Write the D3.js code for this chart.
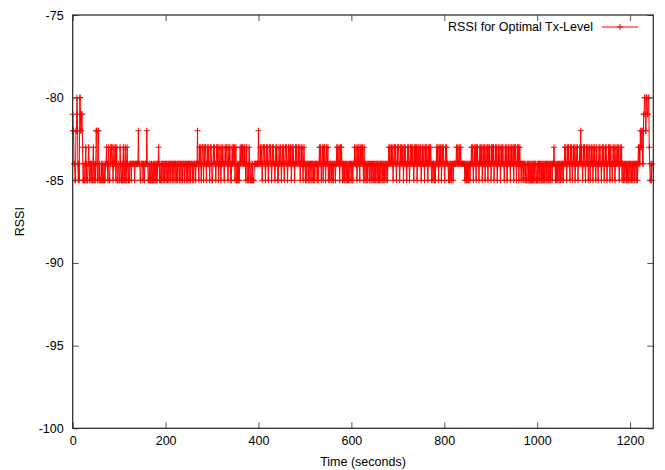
<!DOCTYPE html>
<html>
<head>
<meta charset="utf-8">
<script src="https://cdn.jsdelivr.net/npm/d3@7"></script>
<style>
  html, body { margin: 0; padding: 0; background: #fff; }
  svg { display: block; font-family: "Liberation Sans", Arial, Helvetica, sans-serif; }
</style>
</head>
<body>
<svg id="chart" width="665" height="470"></svg>
<script>
// ---- data ----
const seriesName = "RSSI for Optimal Tx-Level";
const xTicks = [0, 200, 400, 600, 800, 1000, 1200];
const yTicks = [-100, -95, -90, -85, -80, -75];
const xDomain = [0, 1250];
const yDomain = [-100, -75];
const sampleStep = 1.01; // seconds between consecutive samples
const rssi = [
  -81,-82,-82,-84,-84,-85,-85,-82,-82,-80,-81,-84,-85,-84,-85,-80,-80,-82,-82,-81,-81,-83,-85,-85,-84,-85,-85,-84,-83,-85,-84,-85,-85,-84,-83,-84,-85,-84,-84,-85,
  -84,-85,-85,-84,-83,-85,-85,-84,-84,-85,-82,-82,-84,-85,-82,-82,-85,-84,-85,-85,-85,-84,-85,-85,-84,-85,-85,-84,-85,-85,-84,-84,-83,-84,-84,-85,-83,-84,-85,-85,
  -83,-84,-84,-83,-83,-84,-85,-84,-83,-84,-84,-83,-85,-84,-83,-85,-85,-84,-84,-85,-85,-83,-84,-85,-85,-84,-85,-84,-83,-85,-85,-84,-83,-85,-85,-84,-83,-84,-85,-85,
  -84,-85,-84,-84,-84,-85,-84,-84,-84,-84,-84,-84,-85,-84,-84,-84,-84,-84,-84,-84,-82,-84,-84,-84,-85,-85,-84,-84,-84,-84,-85,-84,-84,-85,-84,-84,-84,-84,-82,-84,
  -84,-85,-85,-84,-85,-84,-85,-85,-84,-85,-85,-84,-85,-84,-84,-85,-85,-84,-85,-84,-85,-84,-84,-83,-84,-85,-84,-85,-85,-84,-85,-84,-84,-85,-84,-84,-85,-84,-84,-85,
  -84,-84,-85,-84,-84,-85,-84,-84,-85,-84,-84,-84,-85,-84,-85,-84,-84,-84,-85,-84,-84,-85,-84,-84,-85,-84,-84,-84,-85,-84,-84,-85,-84,-84,-85,-84,-84,-84,-85,-84,
  -84,-84,-85,-84,-85,-84,-84,-84,-85,-84,-84,-85,-84,-84,-84,-85,-84,-84,-85,-84,-84,-84,-85,-84,-84,-84,-82,-84,-84,-85,-83,-84,-83,-84,-85,-84,-83,-83,-84,-85,
  -83,-84,-83,-83,-84,-85,-84,-83,-84,-84,-83,-84,-85,-84,-83,-83,-84,-85,-85,-84,-83,-84,-83,-84,-84,-85,-84,-83,-83,-84,-83,-85,-84,-84,-83,-84,-85,-84,-83,-84,
  -83,-84,-84,-85,-84,-83,-84,-84,-83,-83,-84,-85,-84,-83,-84,-83,-84,-85,-85,-84,-83,-84,-84,-83,-84,-83,-85,-84,-83,-85,-85,-84,-85,-84,-85,-85,-84,-83,-84,-84,
  -83,-84,-83,-84,-84,-83,-84,-83,-84,-85,-84,-83,-85,-85,-84,-85,-83,-84,-85,-85,-84,-85,-85,-84,-85,-85,-85,-84,-84,-84,-84,-84,-84,-84,-84,-84,-82,-84,-84,-84,
  -83,-84,-83,-84,-85,-84,-83,-83,-84,-83,-84,-85,-84,-83,-84,-83,-84,-85,-84,-83,-83,-84,-83,-84,-85,-84,-83,-84,-83,-84,-84,-85,-84,-83,-84,-83,-84,-85,-85,-84,
  -83,-84,-84,-83,-84,-85,-84,-83,-84,-83,-84,-85,-84,-83,-83,-84,-83,-84,-85,-84,-83,-84,-84,-83,-84,-83,-85,-84,-83,-84,-83,-84,-84,-85,-84,-83,-84,-83,-84,-84,
  -84,-83,-84,-83,-84,-85,-84,-83,-84,-83,-84,-85,-84,-83,-84,-84,-85,-84,-84,-85,-84,-84,-84,-85,-84,-84,-85,-84,-84,-84,-85,-84,-84,-85,-84,-84,-85,-84,-84,-84,
  -84,-85,-84,-84,-85,-84,-83,-84,-83,-84,-85,-84,-83,-84,-85,-83,-84,-83,-84,-85,-84,-83,-84,-84,-83,-85,-84,-84,-85,-84,-84,-85,-84,-85,-84,-84,-85,-84,-84,-84,
  -85,-84,-84,-83,-84,-83,-84,-84,-83,-85,-84,-83,-84,-83,-84,-85,-84,-84,-85,-84,-85,-84,-84,-85,-84,-84,-85,-84,-85,-84,-84,-85,-84,-84,-84,-85,-84,-85,-84,-84,
  -84,-83,-84,-84,-83,-84,-85,-84,-83,-84,-83,-84,-85,-83,-84,-84,-83,-84,-83,-84,-85,-83,-84,-85,-84,-84,-85,-84,-84,-85,-84,-84,-84,-85,-84,-84,-85,-84,-85,-84,
  -84,-85,-84,-84,-85,-84,-85,-84,-84,-85,-84,-84,-85,-84,-85,-84,-84,-85,-84,-84,-85,-84,-84,-85,-84,-85,-84,-84,-85,-84,-84,-85,-84,-84,-83,-84,-83,-84,-84,-83,
  -84,-83,-84,-85,-84,-83,-83,-84,-83,-84,-85,-84,-83,-84,-83,-83,-84,-85,-84,-83,-84,-83,-84,-84,-83,-85,-84,-83,-84,-83,-84,-84,-85,-84,-83,-84,-83,-84,-85,-84,
  -83,-84,-83,-84,-84,-83,-84,-85,-84,-83,-84,-83,-84,-83,-85,-84,-83,-84,-83,-84,-84,-83,-84,-85,-84,-83,-84,-83,-84,-84,-85,-83,-84,-83,-84,-83,-84,-85,-84,-83,
  -84,-83,-84,-83,-84,-85,-84,-84,-85,-84,-84,-85,-84,-85,-84,-84,-83,-84,-83,-84,-85,-83,-84,-83,-84,-83,-85,-84,-83,-84,-83,-84,-84,-85,-84,-83,-84,-83,-84,-84,
  -84,-85,-84,-85,-84,-84,-85,-84,-85,-84,-84,-85,-84,-84,-84,-84,-84,-84,-83,-84,-84,-83,-84,-84,-83,-84,-84,-83,-84,-84,-84,-84,-84,-84,-84,-84,-85,-84,-85,-84,
  -85,-84,-85,-84,-85,-84,-84,-85,-84,-84,-83,-84,-83,-84,-85,-84,-83,-84,-83,-84,-85,-83,-84,-83,-84,-84,-85,-84,-83,-84,-83,-84,-83,-85,-84,-83,-84,-84,-83,-85,
  -84,-83,-84,-84,-83,-85,-84,-83,-84,-83,-84,-84,-85,-83,-84,-83,-84,-83,-85,-84,-84,-83,-84,-83,-84,-85,-84,-83,-84,-83,-84,-84,-85,-83,-84,-83,-84,-83,-84,-84,
  -85,-84,-83,-84,-83,-84,-85,-84,-83,-84,-83,-84,-84,-85,-83,-84,-83,-84,-84,-83,-85,-84,-83,-84,-83,-84,-85,-84,-83,-84,-83,-85,-84,-83,-84,-84,-85,-84,-84,-84,
  -85,-84,-85,-84,-84,-85,-84,-85,-85,-84,-84,-85,-84,-85,-84,-84,-85,-84,-85,-84,-85,-84,-84,-85,-84,-85,-84,-84,-85,-85,-84,-85,-84,-84,-85,-84,-85,-84,-84,-85,
  -84,-85,-84,-84,-85,-84,-85,-84,-84,-85,-84,-85,-84,-84,-85,-84,-84,-85,-84,-85,-84,-84,-85,-84,-84,-84,-83,-84,-84,-85,-84,-85,-84,-84,-85,-84,-84,-85,-84,-84,
  -85,-84,-84,-85,-84,-84,-85,-84,-84,-83,-84,-83,-84,-85,-84,-83,-84,-83,-84,-84,-85,-83,-84,-83,-84,-85,-84,-83,-84,-83,-84,-85,-84,-83,-84,-84,-83,-85,-84,-84,
  -84,-83,-84,-82,-84,-83,-84,-85,-84,-83,-84,-83,-84,-85,-84,-83,-84,-84,-83,-85,-84,-83,-84,-85,-84,-83,-84,-83,-84,-85,-84,-83,-84,-83,-84,-85,-84,-83,-84,-84,
  -85,-84,-83,-84,-83,-84,-84,-85,-84,-83,-84,-83,-84,-85,-84,-83,-84,-83,-84,-85,-84,-84,-83,-84,-83,-85,-84,-83,-84,-84,-85,-84,-83,-84,-83,-84,-85,-84,-83,-84,
  -84,-83,-84,-83,-84,-85,-84,-83,-84,-84,-83,-85,-84,-84,-85,-84,-84,-85,-84,-84,-85,-84,-85,-84,-84,-85,-84,-84,-85,-84,-84,-85,-84,-84,-85,-84,-84,-85,-84,-84,
  -84,-85,-84,-84,-85,-84,-83,-84,-83,-84,-82,-83,-83,-82,-82,-84,-84,-81,-81,-80,-80,-82,-82,-80,-80,-81,-81,-80,-80,-83,-84,-85,-85,-84,-85,-84
];
const data = rssi.map((v, i) => ({ t: i * sampleStep, v }));

// ---- layout ----
const svg = d3.select("#chart");
const m = { left: 72.7, right: 653.3, top: 15, bottom: 428.3 };
const x = d3.scaleLinear().domain(xDomain).range([m.left, m.right]);
const y = d3.scaleLinear().domain(yDomain).range([m.bottom, m.top]);
const tickLen = 6;
const fontSize = 12.5;
const fmt = d => String(d);

// data line + markers
const g = svg.append("g");
g.append("path").datum(data)
  .attr("fill", "none").attr("stroke", "#ff0000").attr("stroke-width", 1)
  .attr("d", d3.line().x(d => x(d.t)).y(d => y(d.v)));
g.append("g").selectAll("path").data(data).join("path")
  .attr("transform", d => `translate(${x(d.t)},${y(d.v)})`)
  .attr("d", "M-3,0H3M0,-3V3")
  .attr("stroke", "#ff0000").attr("stroke-width", 1).attr("fill", "none");

// axes (gnuplot style: inward ticks, mirrored)
const axisColor = "#222";
const axBottom = svg.append("g").attr("transform", `translate(0,${m.bottom})`)
  .call(d3.axisBottom(x).tickValues(xTicks).tickFormat(fmt).tickSizeInner(-tickLen).tickSizeOuter(0).tickPadding(8));
const axTop = svg.append("g").attr("transform", `translate(0,${m.top})`)
  .call(d3.axisTop(x).tickValues(xTicks).tickSizeInner(-tickLen).tickSizeOuter(0).tickFormat(""));
const axLeft = svg.append("g").attr("transform", `translate(${m.left},0)`)
  .call(d3.axisLeft(y).tickValues(yTicks).tickFormat(fmt).tickSizeInner(-tickLen).tickSizeOuter(0).tickPadding(10));
const axRight = svg.append("g").attr("transform", `translate(${m.right},0)`)
  .call(d3.axisRight(y).tickValues(yTicks).tickSizeInner(-tickLen).tickSizeOuter(0).tickFormat(""));

[axBottom, axTop, axLeft, axRight].forEach(a => {
  a.select(".domain").remove();
  a.selectAll(".tick line").attr("stroke", "#555").attr("stroke-width", 1);
  a.selectAll("text").attr("fill", "#000").attr("font-size", fontSize)
    .attr("font-family", "Liberation Sans, Arial, sans-serif");
});
axBottom.selectAll("text").attr("dy", "0.71em").attr("y", 8);
axLeft.selectAll("text").attr("x", -9);

// frame
svg.append("rect")
  .attr("x", m.left).attr("y", m.top)
  .attr("width", m.right - m.left).attr("height", m.bottom - m.top)
  .attr("fill", "none").attr("stroke", axisColor).attr("stroke-width", 1.2);

// axis titles
svg.append("text")
  .attr("x", (m.left + m.right) / 2).attr("y", 462).attr("dy", "0.35em")
  .attr("text-anchor", "middle").attr("font-size", fontSize).text("Time (seconds)");
svg.append("text")
  .attr("transform", `translate(20,${(m.top + m.bottom) / 2}) rotate(-90)`)
  .attr("dy", "0.35em").attr("text-anchor", "middle").attr("font-size", fontSize).text("RSSI");

// legend
const lg = svg.append("g");
lg.append("text").attr("x", 593).attr("y", 27).attr("dy", "0.35em")
  .attr("text-anchor", "end").attr("font-size", fontSize).text(seriesName);
lg.append("line").attr("x1", 602).attr("x2", 638).attr("y1", 27).attr("y2", 27)
  .attr("stroke", "#ff0000").attr("stroke-width", 1);
lg.append("path").attr("transform", "translate(620,27)").attr("d", "M-3,0H3M0,-3V3")
  .attr("stroke", "#ff0000").attr("stroke-width", 1);
</script>
</body>
</html>
